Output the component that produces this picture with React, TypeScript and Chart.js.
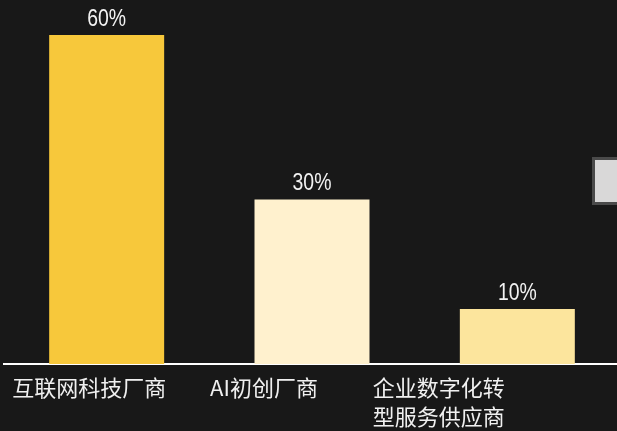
import React, { useEffect, useRef } from "react";
import { Chart, registerables } from "chart.js";

Chart.register(...registerables);

const categories: (string | string[])[] = [
  "互联网科技厂商",
  "AI初创厂商",
  ["企业数字化转", "型服务供应商"],
];
const shareValues = [60, 30, 10];
const barColors = ["#F7C83B", "#FFF1CE", "#FCE59D"];
const valueSuffix = "%";

const valueLabelPlugin = {
  id: "valueLabels",
  afterDatasetsDraw(chart: any) {
    const ctx = chart.ctx;
    const meta = chart.getDatasetMeta(0);
    meta.data.forEach((bar: any, i: number) => {
      ctx.save();
      ctx.font = "24px 'Liberation Sans', sans-serif";
      ctx.fillStyle = "#F2F2F2";
      ctx.textAlign = "center";
      ctx.textBaseline = "alphabetic";
      ctx.translate(bar.x, bar.y - 9);
      ctx.scale(0.81, 1);
      ctx.fillText(shareValues[i] + valueSuffix, 0, 0);
      ctx.restore();
    });
  },
};

export default function App() {
  const canvasRef = useRef<HTMLCanvasElement | null>(null);

  useEffect(() => {
    if (!canvasRef.current) return;
    const chart = new Chart(canvasRef.current, {
      type: "bar",
      data: {
        labels: categories.map((c) => (Array.isArray(c) ? c.join("") : c)),
        datasets: [
          {
            data: shareValues,
            backgroundColor: barColors,
            borderWidth: 0,
            barPercentage: 0.56,
            categoryPercentage: 1,
            xAxisID: "x",
          },
        ],
      },
      options: {
        animation: false,
        responsive: true,
        maintainAspectRatio: false,
        layout: { padding: { left: 4, right: 4, top: 35, bottom: -9 } },
        plugins: {
          legend: { display: false },
          tooltip: { enabled: false },
        },
        scales: {
          x: { display: false },
          x2: {
            type: "linear",
            position: "bottom",
            offset: false,
            bounds: "data",
            min: -0.487,
            max: 3.036,
            grid: { display: false, drawTicks: false, offset: false },
            border: { display: true, color: "#FFFFFF", width: 2 },
            afterBuildTicks: (scale: any) => {
              scale.ticks = categories.map((_, i) => ({ value: i }));
            },
            ticks: {
              padding: 9,
              color: "#F0F0F0",
              autoSkip: false,
              maxRotation: 0,
              font: {
                family: "'Noto Sans CJK SC', sans-serif",
                size: 22,
                lineHeight: 1.32,
              },
              callback: (v: any) => {
                const n = Number(v);
                return Number.isInteger(n) && categories[n] ? categories[n] : "";
              },
            },
          },
          y: {
            display: false,
            min: 0,
            max: 60,
          },
        },
      },
      plugins: [valueLabelPlugin],
    });
    return () => chart.destroy();
  }, []);

  return (
    <div
      style={{
        position: "fixed",
        left: 0,
        top: 0,
        width: 617,
        height: 431,
        overflow: "hidden",
        background: "#181818",
      }}
    >
      <div style={{ position: "absolute", left: 0, top: 0, width: 624, height: 431 }}>
        <canvas ref={canvasRef} />
      </div>
      <div
        style={{
          position: "absolute",
          left: 592,
          top: 157,
          width: 40,
          height: 42,
          background: "#D9D8D8",
          border: "3px solid #4A4A4A",
        }}
      />
    </div>
  );
}
